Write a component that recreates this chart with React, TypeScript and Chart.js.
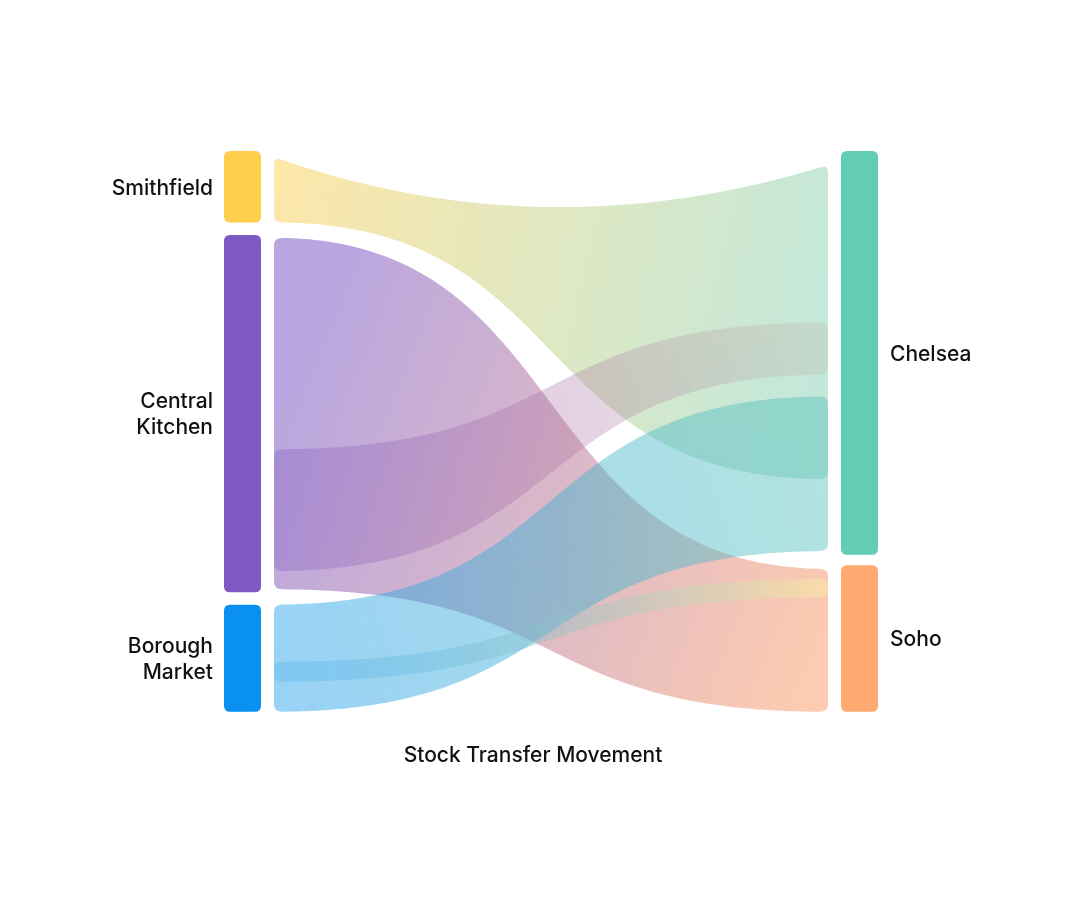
import React, { useEffect, useRef } from "react";
import { Chart, registerables } from "chart.js";

Chart.register(...registerables);

// ---- data ----
const nodeNames = ["Smithfield", "Central Kitchen", "Borough Market", "Chelsea", "Soho"];
const nodeLabelLines = [["Smithfield"], ["Central", "Kitchen"], ["Borough", "Market"], ["Chelsea"], ["Soho"]];
const nodeColumn = [0, 0, 0, 1, 1];
const nodeValues = [20, 100, 30, 113, 41];

const linkSource = ["Smithfield", "Central Kitchen", "Central Kitchen", "Borough Market", "Borough Market"];
const linkTarget = ["Chelsea", "Chelsea", "Soho", "Chelsea", "Soho"];
// band ranges inside source / target node (value units from node top)
const linkSourceFrom = [1.7, 60, 0.8, 0, 16];
const linkSourceTo = [20, 94.1, 99.2, 30, 21.6];
const linkTargetFrom = [3.9, 48, 1, 68.7, 3.8];
const linkTargetTo = [91.9, 62.6, 41, 112, 8.9];

const columnTotal = 157;
const titleText = "Stock Transfer Movement";

// ---- styles ----
const nodeColors = ["#FFCE4B", "#7E58C3", "#0990F0", "#62CCB4", "#FFAA71"];
const linkColorStops = [
  ["rgba(251,207,83,0.5)", "rgba(135,209,181,0.5)"],
  ["rgba(115,77,193,0.3)", "rgba(162,98,162,0.3)", "rgba(192,185,168,0.3)"],
  ["rgba(115,77,193,0.5)", "rgba(251,151,97,0.5)"],
  ["rgba(31,157,233,0.46)", "rgba(95,197,189,0.48)"],
  ["rgba(31,157,233,0.2)", "rgba(251,231,163,0.6)"],
];
const linkDrawOrder = [0, 1, 2, 3, 4];
const linkTopSag = [1, 0, 0, 0, 0];
const NODE_W = 37;
const FLOW_GAP = 13;
const CURVE_K = 0.55;
const SAG_K = 1 / 3;
const LINK_R = 7;
const NODE_R = 6;
const FONT_FAMILY = "Inter, 'Noto Sans', sans-serif";
const FONT = `500 21px ${FONT_FAMILY}`;

function nodeLayout() {
  const pos: { top: number; bottom: number }[] = [];
  [0, 1].forEach((col) => {
    const idx = nodeNames.map((_, i) => i).filter((i) => nodeColumn[i] === col);
    const sum = idx.reduce((s, i) => s + nodeValues[i], 0);
    const gap = idx.length > 1 ? (columnTotal - sum) / (idx.length - 1) : 0;
    let y = 0;
    idx.forEach((i) => {
      pos[i] = { top: y, bottom: y + nodeValues[i] };
      y += nodeValues[i] + gap;
    });
  });
  return pos;
}

function cubic(a: number, b: number, c: number, d: number, t: number) {
  const u = 1 - t;
  return u * u * u * a + 3 * u * u * t * b + 3 * u * t * t * c + t * t * t * d;
}

function sampleEdge(x0: number, x1: number, k: number, y0: number, c1: number, c2: number, y1: number, r: number) {
  const dx = x1 - x0;
  const pts: [number, number][] = [];
  const N = 300;
  for (let i = 0; i <= N; i++) {
    const t = i / N;
    const x = cubic(x0, x0 + k * dx, x1 - k * dx, x1, t);
    if (x < x0 + r || x > x1 - r) continue;
    pts.push([x, cubic(y0, c1, c2, y1, t)]);
  }
  return pts;
}

function rr(ctx: CanvasRenderingContext2D, x: number, y: number, w: number, h: number, r: number) {
  ctx.beginPath();
  ctx.moveTo(x + r, y);
  ctx.lineTo(x + w - r, y);
  ctx.quadraticCurveTo(x + w, y, x + w, y + r);
  ctx.lineTo(x + w, y + h - r);
  ctx.quadraticCurveTo(x + w, y + h, x + w - r, y + h);
  ctx.lineTo(x + r, y + h);
  ctx.quadraticCurveTo(x, y + h, x, y + h - r);
  ctx.lineTo(x, y + r);
  ctx.quadraticCurveTo(x, y, x + r, y);
  ctx.closePath();
}

const sankeyPlugin = {
  id: "sankeyDraw",
  afterDatasetsDraw(chart: any) {
    const ctx: CanvasRenderingContext2D = chart.ctx;
    const xs = chart.scales.x;
    const ys = chart.scales.y;
    const layout = nodeLayout();
    const colLeft = xs.getPixelForValue(0);
    const colRight = xs.getPixelForValue(1);
    const nodeX = (col: number) => (col === 0 ? colLeft : colRight - NODE_W);

    ctx.save();
    // links
    linkDrawOrder.forEach((li) => {
      const s = nodeNames.indexOf(linkSource[li]);
      const t = nodeNames.indexOf(linkTarget[li]);
      const x0 = colLeft + NODE_W + FLOW_GAP;
      const x1 = colRight - NODE_W - FLOW_GAP;
      const y0t = ys.getPixelForValue(layout[s].top + linkSourceFrom[li]);
      const y0b = ys.getPixelForValue(layout[s].top + linkSourceTo[li]);
      const y1t = ys.getPixelForValue(layout[t].top + linkTargetFrom[li]);
      const y1b = ys.getPixelForValue(layout[t].top + linkTargetTo[li]);
      const sag = linkTopSag[li];
      const ct = y0t + sag * (y0b - y0t);
      const topPts = sag
        ? sampleEdge(x0, x1, SAG_K, y0t, ct, ct, y1t, LINK_R)
        : sampleEdge(x0, x1, CURVE_K, y0t, y0t, y1t, y1t, LINK_R);
      const botPts = sampleEdge(x0, x1, CURVE_K, y0b, y0b, y1b, y1b, LINK_R);

      const g = ctx.createLinearGradient(x0, (y0t + y0b) / 2, x1, (y1t + y1b) / 2);
      const stops = linkColorStops[li];
      stops.forEach((c, i) => g.addColorStop(i / (stops.length - 1), c));
      ctx.beginPath();
      ctx.moveTo(x0, y0t + LINK_R);
      ctx.quadraticCurveTo(x0, y0t, topPts[0][0], topPts[0][1]);
      topPts.forEach((p) => ctx.lineTo(p[0], p[1]));
      ctx.quadraticCurveTo(x1, y1t, x1, y1t + LINK_R);
      ctx.lineTo(x1, y1b - LINK_R);
      const bl = botPts[botPts.length - 1];
      ctx.quadraticCurveTo(x1, y1b, bl[0], bl[1]);
      for (let i = botPts.length - 1; i >= 0; i--) ctx.lineTo(botPts[i][0], botPts[i][1]);
      ctx.quadraticCurveTo(x0, y0b, x0, y0b - LINK_R);
      ctx.closePath();
      ctx.fillStyle = g;
      ctx.fill();
    });

    // nodes + labels
    ctx.font = FONT;
    ctx.textBaseline = "middle";
    nodeNames.forEach((name, i) => {
      const col = nodeColumn[i];
      const x = nodeX(col);
      const yt = ys.getPixelForValue(layout[i].top);
      const yb = ys.getPixelForValue(layout[i].bottom);
      ctx.fillStyle = nodeColors[i];
      rr(ctx, x, yt, NODE_W, yb - yt, NODE_R);
      ctx.fill();
      const lines = nodeLabelLines[i];
      const lh = 26;
      const cy = (yt + yb) / 2 + 1.5;
      ctx.fillStyle = "#111";
      ctx.textAlign = col === 0 ? "right" : "left";
      const lx = col === 0 ? x - 11 : x + NODE_W + 12;
      lines.forEach((ln, j) => {
        ctx.fillText(ln, lx, cy + (j - (lines.length - 1) / 2) * lh);
      });
    });
    ctx.restore();
  },
};

export default function App() {
  const ref = useRef<HTMLCanvasElement | null>(null);
  useEffect(() => {
    if (!ref.current) return;
    const chart = new Chart(ref.current, {
      type: "scatter",
      data: { datasets: [{ data: [], pointRadius: 0 }] },
      options: {
        animation: false,
        responsive: true,
        maintainAspectRatio: false,
        layout: { padding: { left: 180, right: 180, top: 143, bottom: 134 } },
        scales: {
          x: { type: "linear", min: -36 / 654, max: 1, display: false },
          y: { type: "linear", min: 0, max: columnTotal, reverse: true, display: false },
        },
        plugins: {
          legend: { display: false },
          tooltip: { enabled: false },
          title: {
            display: true,
            text: titleText,
            position: "bottom",
            color: "#111",
            font: { family: FONT_FAMILY, size: 21, weight: "500" },
            padding: { top: 31, bottom: 8 },
          },
        },
      },
      plugins: [sankeyPlugin],
    });
    return () => chart.destroy();
  }, []);
  return (
    <div style={{ width: 1050, height: 902, position: "relative" }}>
      <canvas ref={ref} />
    </div>
  );
}
